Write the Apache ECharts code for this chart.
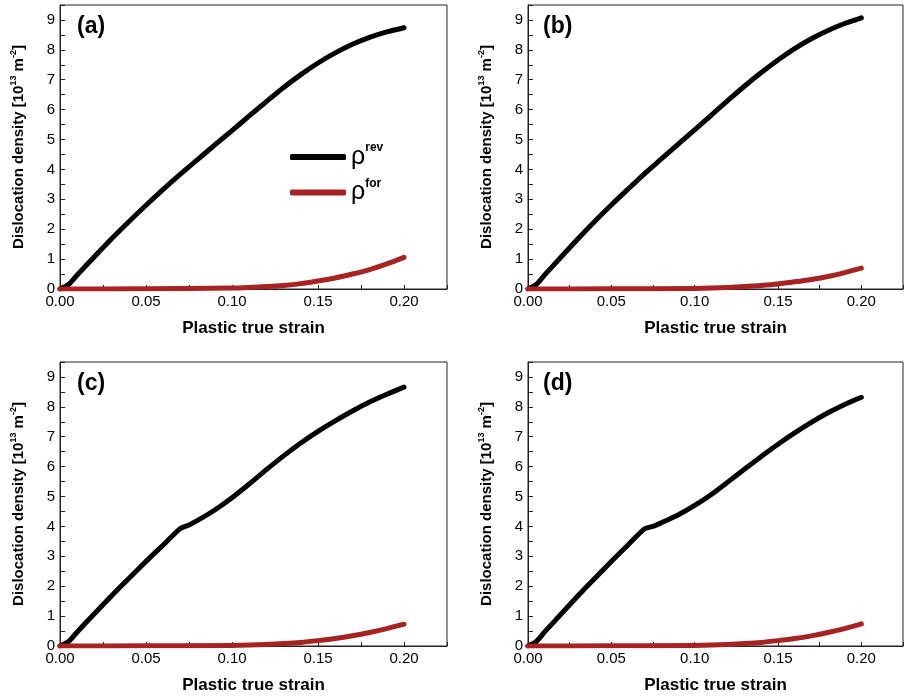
<!DOCTYPE html>
<html><head><meta charset="utf-8">
<script src="https://cdn.jsdelivr.net/npm/echarts@6/dist/echarts.min.js"></script>
<style>html,body{margin:0;padding:0;background:#fff}#c{width:906px;height:696px}</style>
</head><body><div id="c"></div>
<script>
// ---- data ----
const panelLabels = ['(a)', '(b)', '(c)', '(d)'];
const strain = [0,0.005,0.01,0.02,0.03,0.04,0.05,0.06,0.07,0.08,0.09,0.10,0.11,0.12,0.13,0.14,0.15,0.16,0.17,0.18,0.19,0.20];
const strainKink = [0,0.005,0.01,0.02,0.03,0.04,0.05,0.06,0.07,0.075,0.08,0.09,0.10,0.11,0.12,0.13,0.14,0.15,0.16,0.17,0.18,0.19,0.20];
const strainFor = [0,0.05,0.10,0.11,0.12,0.13,0.14,0.15,0.16,0.17,0.18,0.19,0.20];
const revA = [0.0,0.15,0.47,1.08,1.68,2.25,2.8,3.33,3.84,4.33,4.82,5.3,5.79,6.27,6.74,7.17,7.56,7.9,8.19,8.42,8.6,8.74];
const revB = [0.0,0.15,0.47,1.08,1.68,2.26,2.81,3.34,3.86,4.35,4.84,5.32,5.82,6.31,6.79,7.24,7.66,8.04,8.37,8.65,8.88,9.07];
const revC = [0.0,0.15,0.47,1.08,1.68,2.26,2.83,3.38,3.93,4.05,4.2,4.55,4.96,5.42,5.9,6.36,6.79,7.18,7.53,7.86,8.16,8.42,8.66];
const revD = [0.0,0.15,0.47,1.08,1.68,2.26,2.83,3.38,3.92,4.0,4.12,4.38,4.7,5.07,5.49,5.92,6.34,6.75,7.13,7.48,7.8,8.08,8.32];
const forA = [0,0.005,0.03,0.05,0.08,0.12,0.18,0.27,0.37,0.5,0.65,0.84,1.06];
const forB = [0,0.005,0.02,0.03,0.05,0.08,0.12,0.17,0.24,0.32,0.42,0.55,0.7];
const forC = [0,0.005,0.02,0.03,0.05,0.08,0.12,0.18,0.25,0.34,0.45,0.58,0.73];
const forD = [0,0.005,0.02,0.03,0.05,0.08,0.12,0.18,0.25,0.34,0.45,0.58,0.74];
const xTitle = 'Plastic true strain';
const yTitle = '{m|Dislocation density [10}{s|13}{m| m}{s|-2}{m|]}';
const seriesNames = ['rev', 'for'];

// ---- layout ----
const FONT = '"Liberation Sans", Arial, sans-serif';
const grids = [
  {left: 60, top: 5, width: 387, height: 284},
  {left: 528, top: 5, width: 387, height: 284},
  {left: 60, top: 362, width: 387, height: 284},
  {left: 528, top: 362, width: 387, height: 284}
];
const titlePos = [[77, 15], [543, 15], [77, 372], [543, 372]];
const revSets = [[strain, revA], [strain, revB], [strainKink, revC], [strainKink, revD]];
const forSets = [forA, forB, forC, forD];
const zip = (xs, ys) => xs.map((x, i) => [x, ys[i]]);
const AX = '#222';

const option = {
  animation: false,
  backgroundColor: '#fff',
  grid: grids.map(g => Object.assign({show: true, borderColor: AX, borderWidth: 1, backgroundColor: 'transparent', containLabel: false}, g)),
  title: panelLabels.map((t, i) => ({text: t, left: titlePos[i][0], top: titlePos[i][1], padding: 0,
    textStyle: {fontSize: 23, fontWeight: 'bold', color: '#000', fontFamily: FONT}})),
  legend: {
    left: 285, top: 137, orient: 'vertical', itemWidth: 56, itemHeight: 6, itemGap: 8,
    icon: 'roundRect', data: seriesNames, selectedMode: false,
    formatter: n => '{r|\u03c1}{s|' + n + '}',
    textStyle: {rich: {
      r: {fontSize: 25, lineHeight: 30, color: '#000', fontFamily: FONT},
      s: {fontSize: 12, lineHeight: 14, fontWeight: 'bold', color: '#000', verticalAlign: 'top', fontFamily: FONT}
    }}
  },
  xAxis: grids.map((g, i) => ({
    gridIndex: i, type: 'value', min: 0, max: 0.225, interval: 0.025,
    axisLine: {show: true, onZero: false, lineStyle: {color: AX, width: 1}},
    axisTick: {show: true, inside: true, length: 4, lineStyle: {color: AX}},
    splitLine: {show: false},
    axisLabel: {margin: 5, fontSize: 15, color: '#000', fontFamily: FONT,
      formatter: v => (Math.abs(v * 20 - Math.round(v * 20)) < 1e-6 && v < 0.21) ? v.toFixed(2) : ''},
    name: xTitle, nameLocation: 'middle', nameGap: 31,
    nameTextStyle: {fontSize: 17, fontWeight: 'bold', color: '#000', fontFamily: FONT}
  })),
  yAxis: grids.map((g, i) => ({
    gridIndex: i, type: 'value', min: 0, max: 9.5, interval: 0.5,
    axisLine: {show: true, onZero: false, lineStyle: {color: AX, width: 1}},
    axisTick: {show: true, inside: true, length: 5, lineStyle: {color: AX}},
    splitLine: {show: false},
    axisLabel: {margin: 5, fontSize: 15, color: '#000', fontFamily: FONT,
      formatter: v => (Math.abs(v - Math.round(v)) < 1e-6 && v < 9.4) ? String(Math.round(v)) : ''},
    name: yTitle, nameLocation: 'middle', nameGap: 31,
    nameTextStyle: {rich: {
      m: {fontSize: 15, fontWeight: 'bold', color: '#000', fontFamily: FONT, lineHeight: 20},
      s: {fontSize: 9, fontWeight: 'bold', color: '#000', fontFamily: FONT, verticalAlign: 'top', lineHeight: 11}
    }}
  })),
  series: []
};

for (let i = 0; i < 4; i++) {
  option.series.push({
    name: 'rev', type: 'line', xAxisIndex: i, yAxisIndex: i, showSymbol: false, symbol: 'none',
    smooth: 0.25,
    data: zip(revSets[i][0], revSets[i][1]),
    lineStyle: {color: '#000', width: 5, cap: 'round', join: 'round'}, itemStyle: {color: '#000'}
  });
  option.series.push({
    name: 'for', type: 'line', xAxisIndex: i, yAxisIndex: i, showSymbol: false, symbol: 'none',
    smooth: 0.25,
    data: zip(strainFor, forSets[i]),
    lineStyle: {color: '#a82222', width: 5, cap: 'round', join: 'round'}, itemStyle: {color: '#a82222'}
  });
}

const chart = echarts.init(document.getElementById('c'), null, {renderer: 'canvas'});
chart.setOption(option);
</script>
</body></html>
